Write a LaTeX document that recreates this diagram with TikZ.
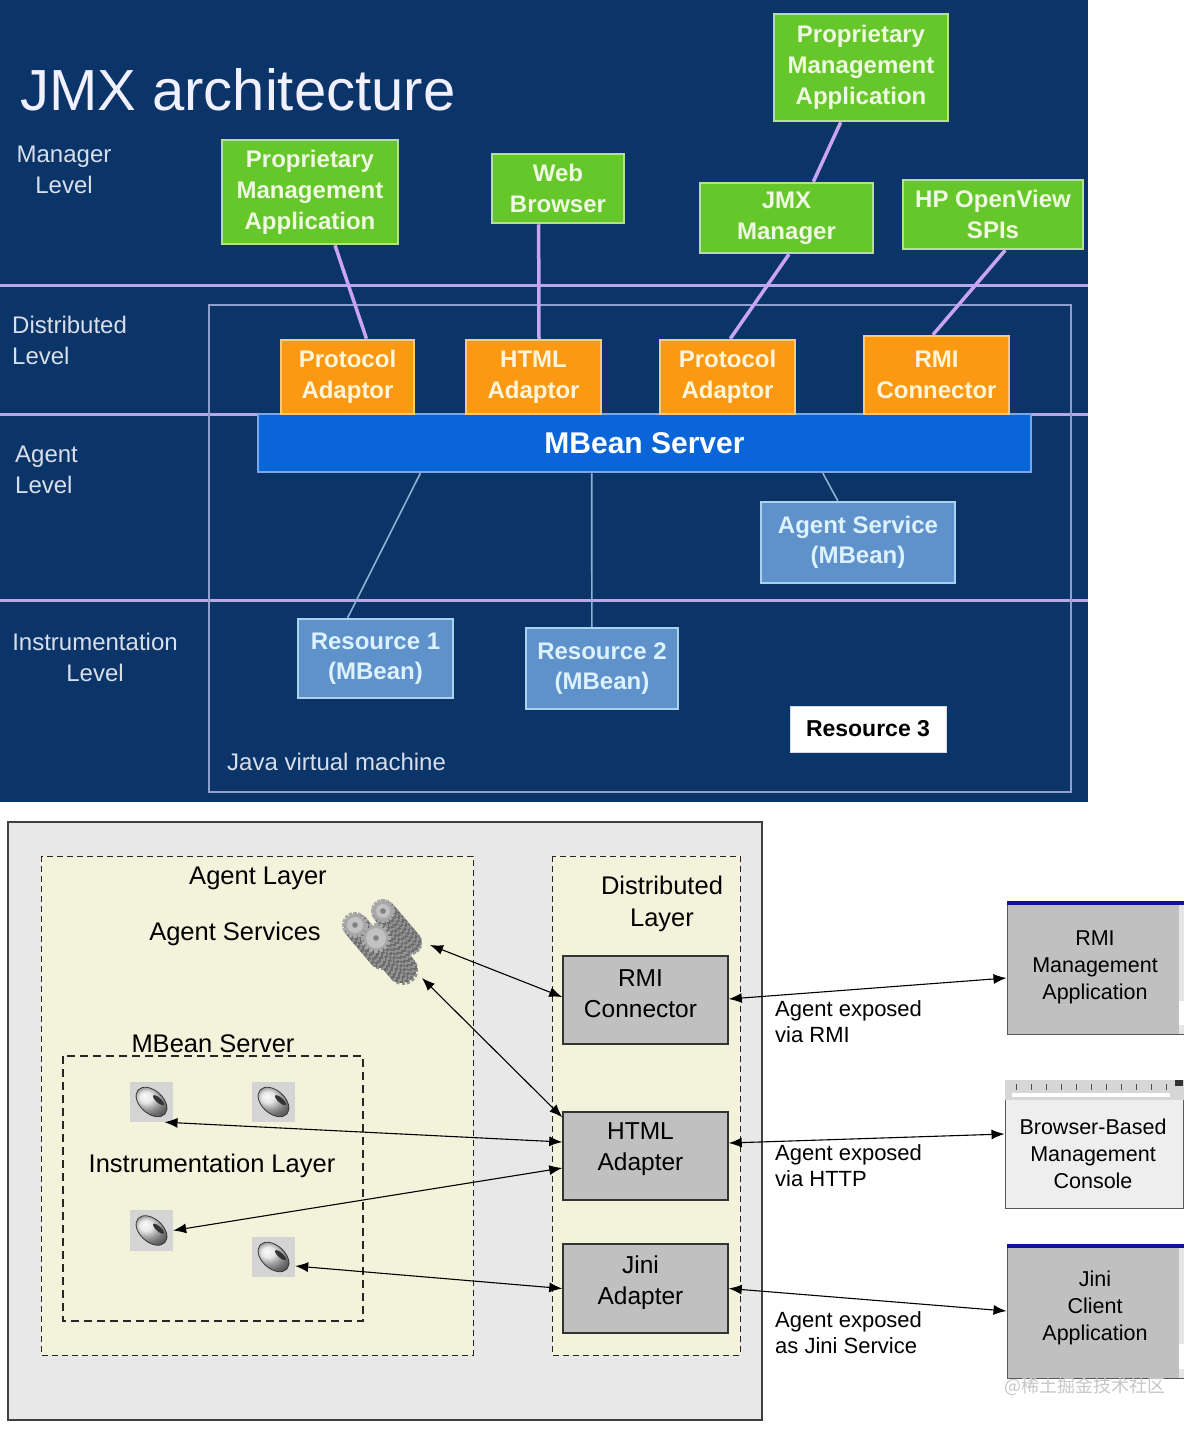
\documentclass[tikz,border=0pt]{standalone}
\usepackage{fontspec}
\setmainfont{Liberation Sans}
\newfontfamily\cjk{Noto Sans CJK SC}
\usetikzlibrary{arrows.meta,calc}
\definecolor{navy}{HTML}{0B3468}
\definecolor{lvline}{HTML}{B8A8E6}
\definecolor{jvmline}{HTML}{8E9FD0}
\definecolor{conncol}{HTML}{C9A3F5}
\definecolor{greenfill}{HTML}{66C72A}
\definecolor{greenedge}{HTML}{B6E08E}
\definecolor{greentext}{HTML}{EEF8E2}
\definecolor{orangefill}{HTML}{FB9A12}
\definecolor{orangeedge}{HTML}{FFC878}
\definecolor{orangetext}{HTML}{FFF4DC}
\definecolor{mbsfill}{HTML}{0A66D8}
\definecolor{mbsedge}{HTML}{7AA8E6}
\definecolor{resfill}{HTML}{5F91CB}
\definecolor{resedge}{HTML}{A9D3EC}
\definecolor{restext}{HTML}{DDF2FF}
\definecolor{leveltext}{HTML}{D8DEEA}
\definecolor{panelgray}{HTML}{E8E8E8}
\definecolor{cream}{HTML}{F3F3DC}
\definecolor{boxgray}{HTML}{C0C0C0}
\definecolor{beanbg}{HTML}{D4D4D4}
\definecolor{titleblue}{HTML}{14149A}
\newcommand\gearshape[4]{%
  \fill[#4] (#1,#2) circle[radius=#3-2.5];
  \foreach \ga in {0,22.5,...,337.5}
    \fill[#4, rotate around={\ga:(#1,#2)}] (#1-1.7,#2-#3) rectangle (#1+1.7,#2-#3+4);
}
\newcommand\mygear[3]{%
  \foreach \gs in {32,30,...,2}{%
    \pgfmathsetmacro\gcol{ifthenelse(mod(\gs,4)==0,42,58)}%
    \gearshape{#1+0.85*\gs}{#2+\gs}{#3}{black!\gcol}}%
  \gearshape{#1}{#2}{#3}{black!34}%
  \fill[black!24] (#1,#2) circle[radius=#3-5];
  \fill[black!50] (#1,#2) circle[radius=2.8];
}
\newcommand\mybean[1]{%
  \fill[beanbg] (#1.south west) rectangle (#1.north east);
  \shade[ball color=gray!25, rotate around={-42:(#1.center)}] (#1.center) ellipse (18 and 11.5);
  \draw[gray!45!black, line width=0.8pt, rotate around={-42:(#1.center)}] (#1.center) ellipse (18 and 11.5);
  \fill[black!80, rotate around={-42:($(#1.center)+(4,-6)$)}] ($(#1.center)+(4,-6)$) ellipse (7 and 2.4);
}
\tikzset{
  gbox/.style={draw=greenedge, line width=2.5pt, fill=greenfill, text=greentext,
    font=\bfseries\fontsize{24}{31}\selectfont, align=center, inner sep=0pt},
  obox/.style={draw=orangeedge, line width=2.5pt, fill=orangefill, text=orangetext,
    font=\bfseries\fontsize{24}{31}\selectfont, align=center, inner sep=0pt},
  rbox/.style={draw=resedge, line width=2.5pt, fill=resfill, text=restext,
    font=\bfseries\fontsize{24}{30}\selectfont, align=center, inner sep=0pt},
  lvlabel/.style={text=leveltext, font=\fontsize{24}{31}\selectfont, inner sep=0pt},
  conn/.style={draw=conncol, line width=3.5pt},
  thinconn/.style={draw=resedge!80!navy, line width=1.6pt},
  gbx/.style={draw=black!80, line width=1.5pt, fill=boxgray, inner sep=0pt},
  gbxtext/.style={align=center, font=\fontsize{24.5}{31}\selectfont, inner sep=0pt},
  win/.style={draw=gray!70!black, line width=1pt, fill=boxgray, align=center,
    font=\fontsize{21.5}{27}\selectfont, inner sep=0pt},
  lbl/.style={font=\fontsize{25.5}{32}\selectfont, inner sep=0pt, align=center},
  exlbl/.style={font=\fontsize{22}{26}\selectfont, inner sep=0pt, align=left, anchor=west},
  dlayer/.style={draw=black!85, line width=1pt, dash pattern=on 6pt off 4pt, fill=cream},
  twoarrow/.style={draw=black, line width=1.1pt, {Latex[length=13pt,width=10pt]}-{Latex[length=13pt,width=10pt]}},
  beanbox/.style={minimum width=43pt, minimum height=40pt, inner sep=0pt}
}
\begin{document}
\begin{tikzpicture}[x=1pt,y=-1pt]
\useasboundingbox (0,0) rectangle (1200,1432);
\fill[white] (0,0) rectangle (1200,1432);
% ===================== TOP PANEL =====================
\fill[navy] (0,0) rectangle (1088,802);
\foreach \yy in {285,414,600}
  \draw[lvline, line width=3pt] (0,\yy) -- (1088,\yy);
\draw[jvmline, line width=2pt] (209,305) rectangle (1071,792);

\node[anchor=base west, font=\fontsize{58}{60}\selectfont, text=white!94!blue, inner sep=0pt] (title) at (20,110) {JMX architecture};

\node[lvlabel, align=center] (lvm) at (64,170) {Manager\\Level};
\node[lvlabel, align=left, anchor=west] (lvd) at (12,340) {Distributed\\Level};
\node[lvlabel, align=left, anchor=west] (lva) at (15,470) {Agent\\Level};
\node[lvlabel, align=center] (lvi) at (95,657) {Instrumentation\\Level};
\node[anchor=west, text=leveltext, font=\fontsize{24}{30}\selectfont, inner sep=0pt] (jvm) at (227,762) {Java virtual machine};

\node[gbox, minimum width=176pt, minimum height=104pt] (pma1) at (310,192) {Proprietary\\Management\\Application};
\node[gbox, minimum width=132pt, minimum height=69pt] (web) at (558,188.5) {Web\\Browser};
\node[gbox, minimum width=174pt, minimum height=107pt] (pma2) at (861,67.5) {Proprietary\\Management\\Application};
\node[gbox, minimum width=173pt, minimum height=70pt] (jmxm) at (786.5,218) {JMX\\Manager};
\node[gbox, minimum width=180pt, minimum height=69pt] (hp) at (993,214.5) {HP OpenView\\SPIs};

\node[draw=mbsedge, line width=2.5pt, fill=mbsfill, text=white, font=\bfseries\fontsize{30}{34}\selectfont, minimum width=773pt, minimum height=58pt, inner sep=0pt] (mbs) at (644.5,443) {MBean Server};

\node[obox, minimum width=133pt, minimum height=74pt] (pa1) at (347.5,377) {Protocol\\Adaptor};
\node[obox, minimum width=135pt, minimum height=74pt] (htmlad) at (533.5,377) {HTML\\Adaptor};
\node[obox, minimum width=135pt, minimum height=74pt] (pa2) at (727.5,377) {Protocol\\Adaptor};
\node[obox, minimum width=145pt, minimum height=78pt] (rmicon) at (936.5,375) {RMI\\Connector};

\node[rbox, minimum width=194pt, minimum height=81pt] (agsvc) at (858,542.5) {Agent Service\\(MBean)};
\node[rbox, minimum width=155pt, minimum height=79pt] (res1) at (375.5,658.5) {Resource 1\\(MBean)};
\node[rbox, minimum width=152pt, minimum height=81pt] (res2) at (602,668.5) {Resource 2\\(MBean)};
\node[draw=gray!30, line width=1pt, fill=white, text=black, font=\bfseries\fontsize{23}{28}\selectfont, minimum width=156pt, minimum height=46pt, inner sep=0pt] (res3) at (868,729) {Resource 3};

\draw[conn] ($(pma1.south west)!0.64!(pma1.south east)$) -- ($(pa1.north west)!0.64!(pa1.north east)$);
\draw[conn] ($(web.south west)!0.356!(web.south east)$) -- ($(htmlad.north west)!0.54!(htmlad.north east)$);
\draw[conn] ($(pma2.south west)!0.385!(pma2.south east)$) -- ($(jmxm.north west)!0.653!(jmxm.north east)$);
\draw[conn] ($(jmxm.south west)!0.514!(jmxm.south east)$) -- ($(pa2.north west)!0.52!(pa2.north east)$);
\draw[conn] ($(hp.south west)!0.567!(hp.south east)$) -- ($(rmicon.north west)!0.476!(rmicon.north east)$);
\draw[thinconn] ($(mbs.south west)!0.211!(mbs.south east)$) -- ($(res1.north west)!0.323!(res1.north east)$);
\draw[thinconn] ($(mbs.south west)!0.432!(mbs.south east)$) -- ($(res2.north west)!0.434!(res2.north east)$);
\draw[thinconn] ($(mbs.south west)!0.73!(mbs.south east)$) -- ($(agsvc.north west)!0.397!(agsvc.north east)$);

% ===================== BOTTOM PANEL =====================
\fill[panelgray] (8,822) rectangle (762,1420);
\draw[gray!50!black, line width=1.5pt] (8,822) rectangle (762,1420);
\draw[dlayer] (41,856) rectangle (473,1355);
\draw[dlayer] (552,856) rectangle (740,1355);
\draw[black!85, line width=1.5pt, dash pattern=on 8pt off 5pt] (63,1056) rectangle (363,1321);

\node[lbl] (agl) at (258,878) {Agent Layer};
\node[lbl] (ags) at (235,934) {Agent Services};
\node[lbl] (mbsl) at (213,1044) {MBean Server};
\node[lbl] (instl) at (212,1166) {Instrumentation Layer};
\node[lbl] (distl) at (662,904) {Distributed\\Layer};

% gears
\mygear{383}{911}{12}
\mygear{355}{925}{13}
\mygear{376}{938}{15}
\coordinate (gA) at (430,945);
\coordinate (gB) at (422,978);

% beans
\node[beanbox] (bean1) at (151.5,1102) {};
\node[beanbox] (bean2) at (273.5,1102) {};
\node[beanbox] (bean3) at (151.5,1230.5) {};
\node[beanbox] (bean4) at (273.5,1257) {};
\mybean{bean1}
\mybean{bean2}
\mybean{bean3}
\mybean{bean4}

\node[gbx, minimum width=165pt, minimum height=88pt] (rmic) at (645.5,1000) {};
\node[gbx, minimum width=165pt, minimum height=88pt] (htmla) at (645.5,1156) {};
\node[gbx, minimum width=165pt, minimum height=89pt] (jinia) at (645.5,1288.5) {};
\node[gbxtext] (rmictx) at ([xshift=-5pt,yshift=6pt]rmic.center) {RMI\\Connector};
\node[gbxtext] (htmlatx) at ([xshift=-5pt,yshift=7pt]htmla.center) {HTML\\Adapter};
\node[gbxtext] (jiniatx) at ([xshift=-5pt,yshift=6pt]jinia.center) {Jini\\Adapter};

% windows
\node[win, minimum width=176pt, minimum height=133pt] (rmiapp) at (1095,967.5) {RMI\\Management\\Application};
\fill[titleblue] (rmiapp.north west) rectangle ([yshift=-4pt]rmiapp.north east);
\fill[gray!20] ([xshift=-5pt,yshift=-4pt]rmiapp.north east) rectangle ([yshift=1pt]rmiapp.south east);
\fill[white] ([xshift=-5pt,yshift=-100pt]rmiapp.north east) rectangle ([yshift=10pt]rmiapp.south east);

\node[win, fill=gray!13, minimum width=178pt, minimum height=128pt] (browser) at (1094,1144) {};
\fill[gray!32] (browser.north west) rectangle ([yshift=-20pt]browser.north east);
\fill[white] (1012,1093) rectangle (1170,1097);
\foreach \ti in {0,...,10}
  \draw[gray!60!black, line width=0.6pt] (1016+15*\ti,1084) -- (1016+15*\ti,1090);
\fill[black!80] (1175,1080) rectangle (1183,1086);
\node[font=\fontsize{21.5}{27}\selectfont, align=center, inner sep=0pt] (browtxt) at (1093,1154) {Browser-Based\\Management\\Console};

\node[win, minimum width=176pt, minimum height=134pt] (jiniapp) at (1095,1311) {};
\fill[titleblue] (jiniapp.north west) rectangle ([yshift=-4pt]jiniapp.north east);
\fill[gray!20] ([xshift=-5pt,yshift=-4pt]jiniapp.north east) rectangle ([yshift=1pt]jiniapp.south east);
\fill[white] ([xshift=-5pt,yshift=-100pt]jiniapp.north east) rectangle ([yshift=10pt]jiniapp.south east);
\node[font=\fontsize{21.5}{27}\selectfont, align=center, inner sep=0pt] (jinitxt) at (1095,1308) {Jini\\Client\\Application};

% arrows
\draw[twoarrow] (gA) -- ([yshift=3pt]rmic.west);
\draw[twoarrow] (gB) -- ([yshift=-6pt]htmla.north west);
\draw[twoarrow] ($(bean1.south west)!0.8!(bean1.south east)$) -- ([yshift=14pt]htmla.west);
\draw[twoarrow] (bean3.east) -- ([yshift=-12pt]htmla.west);
\draw[twoarrow] ([yshift=-9pt]bean4.east) -- (jinia.west);
\draw[twoarrow] ([yshift=1pt]rmic.east) -- ([yshift=-10.5pt]rmiapp.west);
\draw[twoarrow] ([yshift=13pt]htmla.east) -- ([yshift=10pt]browser.west);
\draw[twoarrow] (jinia.east) -- (jiniapp.west);

\node[exlbl] (ex1) at (775,1022) {Agent exposed\\via RMI};
\node[exlbl] (ex2) at (775,1166) {Agent exposed\\via HTTP};
\node[exlbl] (ex3) at (775,1333) {Agent exposed\\as Jini Service};

\node[text=gray!45, font=\cjk\fontsize{18}{20}\selectfont, inner sep=0pt] (wm) at (1085,1386) {@稀土掘金技术社区};
\end{tikzpicture}
\end{document}
